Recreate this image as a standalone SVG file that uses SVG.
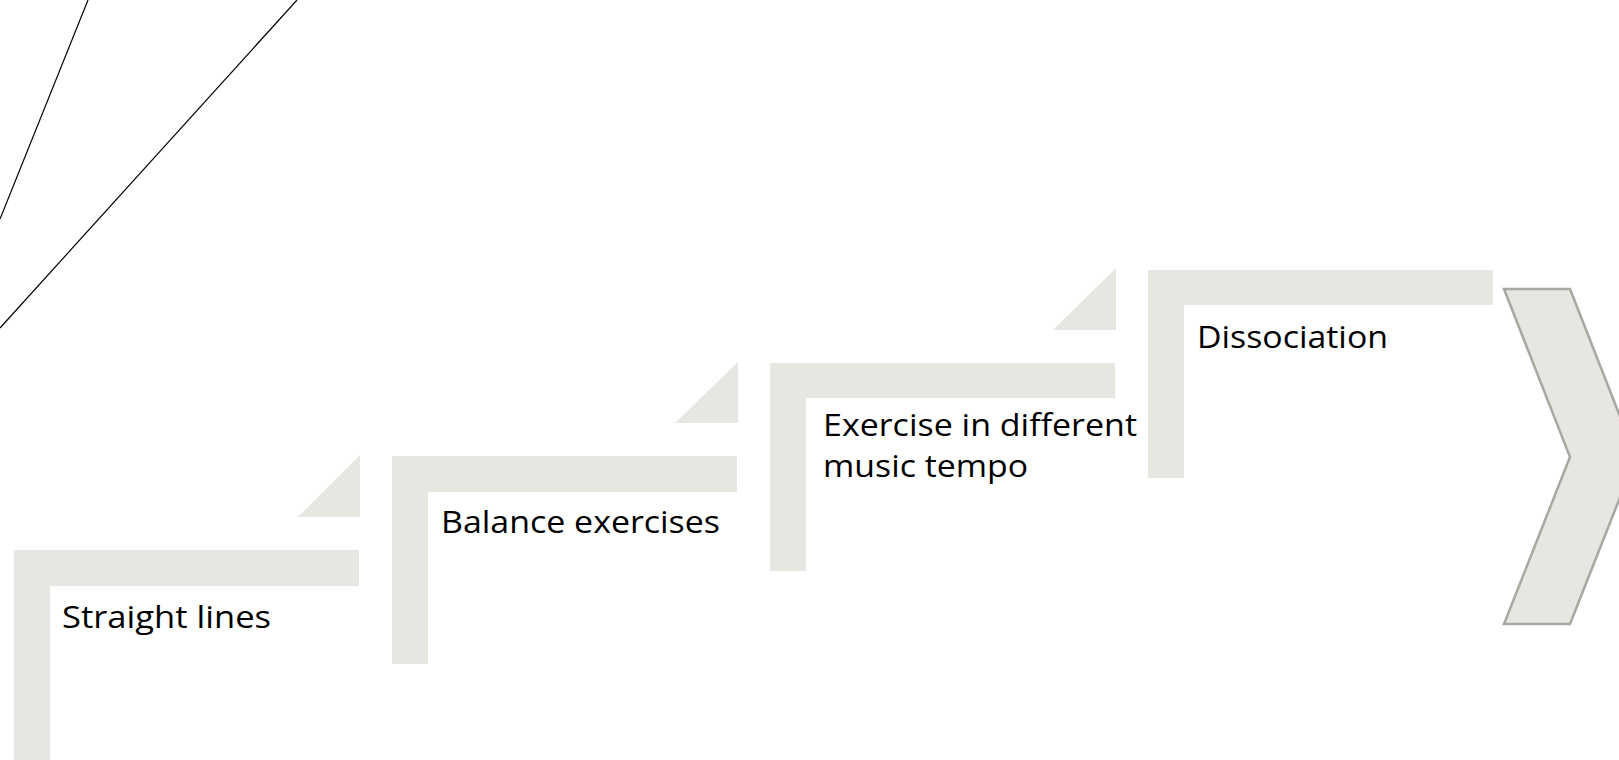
<svg xmlns="http://www.w3.org/2000/svg" width="1619" height="760" viewBox="0 0 1619 760">
<style>
.band{fill:#E8E6E0;}
.lbl{font-family:"Open Sans","Liberation Sans",sans-serif;font-size:31.5px;fill:#000;}
.deco{stroke:#000;stroke-width:1.2;fill:none;}
.chev{fill:#E8E6E0;stroke:#A8A7A1;stroke-width:2.5;}
</style>
<rect width="1619" height="760" fill="#fff"/>
<g id="decor">
<line class="deco" x1="88" y1="0" x2="0" y2="219"/>
<line class="deco" x1="297" y1="0" x2="0" y2="328"/>
</g>
<g id="connectors">
<polygon class="band" points="360,455 360,517 298,517"/>
<polygon class="band" points="738,362 738,423 675,423"/>
<polygon class="band" points="1116,268 1116,330 1053,330"/>
</g>
<g id="step1">
<path class="band" d="M14,550 H359 V586 H50 V760 H14 Z"/>
<text class="lbl" x="62" y="628" textLength="209" lengthAdjust="spacingAndGlyphs">Straight lines</text>
</g>
<g id="step2">
<path class="band" d="M392,456 H737 V492 H428 V664 H392 Z"/>
<text class="lbl" x="441" y="533" textLength="279" lengthAdjust="spacingAndGlyphs">Balance exercises</text>
</g>
<g id="step3">
<path class="band" d="M770,363 H1115 V398 H806 V571 H770 Z"/>
<text class="lbl" x="823" y="436" textLength="314" lengthAdjust="spacingAndGlyphs">Exercise in different</text>
<text class="lbl" x="823" y="477" textLength="205" lengthAdjust="spacingAndGlyphs">music tempo</text>
</g>
<g id="step4">
<path class="band" d="M1148,270 H1493 V305 H1184 V478 H1148 Z"/>
<text class="lbl" x="1197" y="348" textLength="191" lengthAdjust="spacingAndGlyphs">Dissociation</text>
</g>
<g id="chevron">
<polygon class="chev" points="1504,289 1570,289 1636,457 1570,624 1504,624 1570,457"/>
</g>
</svg>
